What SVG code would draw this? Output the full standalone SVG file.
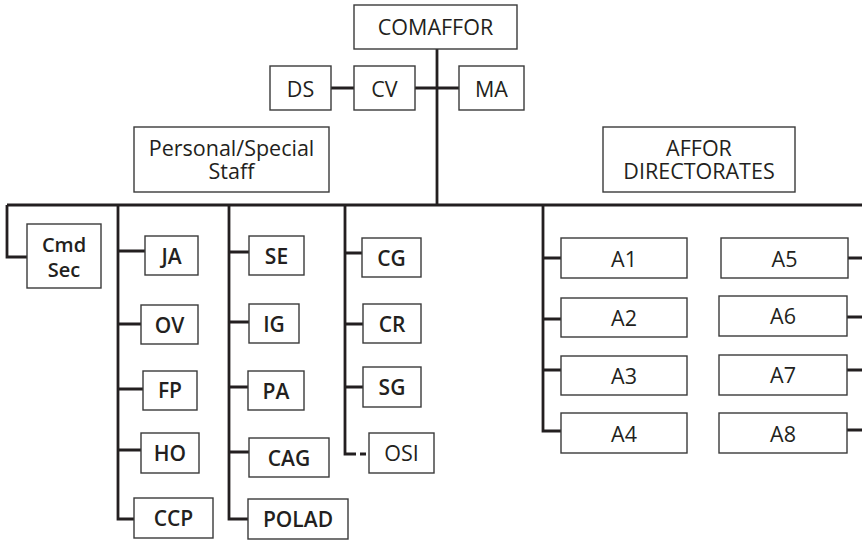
<svg xmlns="http://www.w3.org/2000/svg" width="862" height="540" viewBox="0 0 862 540">
<style>
.bg{fill:#ffffff}
.box{fill:#ffffff;stroke:#3a3a3a;stroke-width:1.4}
.ln{fill:none;stroke:#231f20;stroke-width:2.8;stroke-linecap:butt;stroke-linejoin:miter}
.dash{stroke-dasharray:6 4}
text{font-family:"Open Sans","Noto Sans","Liberation Sans",sans-serif;font-size:21.5px;fill:#231f20;text-anchor:middle}
.b{font-weight:600;font-size:21px}
.c{font-weight:600;font-size:20px}
</style>
<rect class="bg" x="0" y="0" width="862" height="540"/>
<g id="connectors">
<path class="ln" d="M437 49V205"/>
<path class="ln" d="M331 88H354M415 88H459"/>
<path class="ln" d="M7 205H862"/>
<path class="ln" d="M7 205V257H27"/>
<path class="ln" d="M118 205V519H134M118 251H145M118 324H141M118 389H143M118 450H141"/>
<path class="ln" d="M229 205V519H248M229 252H249M229 322H249M229 387H248M229 452H249"/>
<path class="ln" d="M345 205V454H350M345 253H362M345 324H363M345 387H363"/>
<path class="ln dash" d="M350 454H369"/>
<path class="ln" d="M543 205V431H561M543 258H561M543 319H561M543 370H561"/>
<path class="ln" d="M848 258H862M847 317H862M847 370H862M847 430H862"/>
</g>
<g id="COMAFFOR"><rect class="box" x="354" y="5" width="163" height="44"/><text x="435.5" y="35">COMAFFOR</text></g>
<g id="DS"><rect class="box" x="270" y="66" width="61" height="44"/><text x="300.5" y="97">DS</text></g>
<g id="CV"><rect class="box" x="354" y="66" width="61" height="44"/><text x="384.5" y="97">CV</text></g>
<g id="MA"><rect class="box" x="459" y="66" width="65" height="44"/><text x="491.5" y="97">MA</text></g>
<g id="PersonalSpecialStaff"><rect class="box" x="134" y="127" width="195" height="65"/><text x="231.5" y="156"><tspan x="231.5" y="156">Personal/Special</tspan><tspan x="231.5" y="179">Staff</tspan></text></g>
<g id="AfforDirectorates"><rect class="box" x="603" y="127" width="192" height="65"/><text x="699" y="156"><tspan x="699" y="156">AFFOR</tspan><tspan x="699" y="179">DIRECTORATES</tspan></text></g>
<g id="CmdSec"><rect class="box" x="27" y="224" width="74" height="64"/><text class="c" x="64" y="252"><tspan x="64" y="252">Cmd</tspan><tspan x="64" y="277">Sec</tspan></text></g>
<g id="JA"><rect class="box" x="145" y="236" width="53" height="39"/><text class="b" x="171.5" y="264">JA</text></g>
<g id="OV"><rect class="box" x="141" y="305" width="57" height="39"/><text class="b" x="169.5" y="333">OV</text></g>
<g id="FP"><rect class="box" x="143" y="371" width="54" height="39"/><text class="b" x="170" y="398">FP</text></g>
<g id="HO"><rect class="box" x="141" y="433" width="58" height="40"/><text class="b" x="170" y="461">HO</text></g>
<g id="CCP"><rect class="box" x="134" y="498" width="79" height="40"/><text class="b" x="173.5" y="526">CCP</text></g>
<g id="SE"><rect class="box" x="249" y="236" width="55" height="39"/><text class="b" x="276.5" y="264">SE</text></g>
<g id="IG"><rect class="box" x="249" y="304" width="50" height="39"/><text class="b" x="274" y="332">IG</text></g>
<g id="PA"><rect class="box" x="248" y="371" width="56" height="39"/><text class="b" x="276" y="399">PA</text></g>
<g id="CAG"><rect class="box" x="249" y="438" width="80" height="39"/><text class="b" x="289" y="466">CAG</text></g>
<g id="POLAD"><rect class="box" x="248" y="499" width="100" height="40"/><text class="b" x="298" y="527">POLAD</text></g>
<g id="CG"><rect class="box" x="362" y="238" width="59" height="39"/><text class="b" x="391.5" y="266">CG</text></g>
<g id="CR"><rect class="box" x="363" y="304" width="58" height="39"/><text class="b" x="392" y="332">CR</text></g>
<g id="SG"><rect class="box" x="363" y="367" width="58" height="40"/><text class="b" x="392" y="395">SG</text></g>
<g id="OSI"><rect class="box" x="369" y="433" width="65" height="40"/><text x="401.5" y="461">OSI</text></g>
<g id="A1"><rect class="box" x="561" y="238" width="126" height="40"/><text x="624" y="267">A1</text></g>
<g id="A2"><rect class="box" x="561" y="298" width="126" height="39"/><text x="624" y="326">A2</text></g>
<g id="A3"><rect class="box" x="561" y="356" width="126" height="39"/><text x="624" y="384">A3</text></g>
<g id="A4"><rect class="box" x="561" y="413" width="126" height="40"/><text x="624" y="442">A4</text></g>
<g id="A5"><rect class="box" x="721" y="238" width="127" height="40"/><text x="784.5" y="267">A5</text></g>
<g id="A6"><rect class="box" x="719" y="296" width="128" height="40"/><text x="783" y="324">A6</text></g>
<g id="A7"><rect class="box" x="719" y="355" width="128" height="40"/><text x="783" y="383">A7</text></g>
<g id="A8"><rect class="box" x="719" y="413" width="128" height="40"/><text x="783" y="442">A8</text></g>
</svg>
